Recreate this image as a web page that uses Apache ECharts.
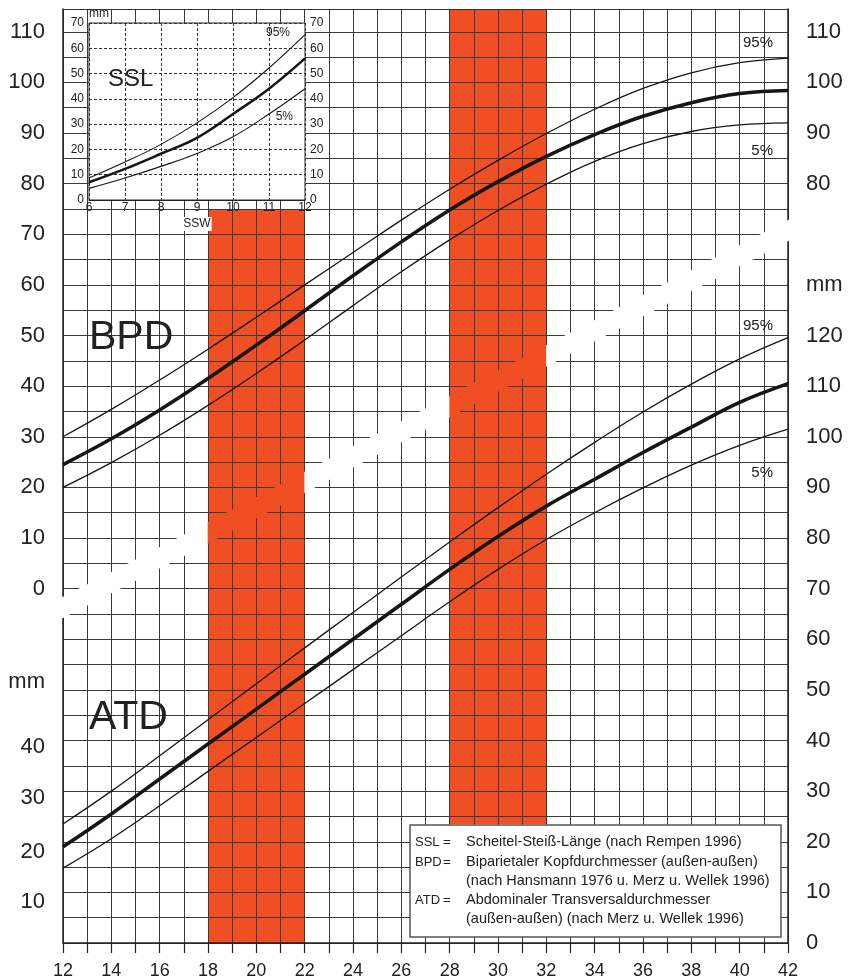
<!DOCTYPE html>
<html>
<head>
<meta charset="utf-8">
<script src="https://cdn.jsdelivr.net/npm/echarts@6/dist/echarts.min.js"></script>
<style>
html, body { margin: 0; padding: 0; background: #fff; }
#chart { width: 848px; height: 980px; }
</style>
</head>
<body>
<div id="chart"></div>
<script>
// gestational weeks (SSW)
var weeks = [12, 14, 16, 18, 20, 22, 24, 26, 28, 30, 32, 34, 36, 38, 40, 42];

// BPD in mm
var bpd95 = [30.0, 35.4, 41.2, 47.3, 53.6, 60.0, 66.4, 72.8, 78.9, 84.6, 89.9, 94.7, 98.8, 101.9, 103.9, 104.8];
var bpd50 = [24.5, 29.6, 35.3, 41.5, 48.1, 54.9, 61.8, 68.5, 74.8, 80.4, 85.4, 89.7, 93.3, 96.0, 97.8, 98.4];
var bpd5  = [20.0, 24.9, 30.3, 36.2, 42.5, 49.1, 55.9, 62.6, 68.9, 74.7, 79.9, 84.4, 87.9, 90.3, 91.6, 92.0];

// ATD in mm
var atd95 = [23.5, 30.0, 37.0, 44.1, 51.2, 58.3, 65.3, 72.3, 79.2, 86.0, 92.6, 98.9, 104.9, 110.4, 115.4, 119.6];
var atd50 = [19.0, 25.5, 32.4, 39.3, 46.2, 53.1, 60.0, 66.9, 73.8, 80.3, 86.3, 91.6, 96.9, 101.9, 106.8, 110.5];
var atd5  = [14.8, 20.6, 27.1, 33.9, 40.6, 47.3, 54.0, 60.7, 67.4, 73.8, 79.7, 85.0, 89.9, 94.4, 98.3, 101.5];

// SSL inset
var sslWeeks = [6, 7, 8, 9, 10, 11, 12];
var ssl95 = [8.7, 15.0, 22.0, 30.5, 40.5, 52.2, 65.4];
var ssl50 = [7.0, 12.3, 18.3, 24.6, 34.0, 44.0, 56.0];
var ssl5  = [4.6, 8.7, 13.3, 18.4, 25.0, 34.0, 44.0];

// shared vertical scale is in ATD mm; BPD 0 sits at ATD 70
var bpdOffset = 70;
var scaleTop = 184.5;

// red week bands [from, to, low, high] on the shared scale
var redZones = [[18, 22, 0, 145], [28, 32, 23.5, 184.5]];

// white divider between the BPD and ATD charts
var bandWeeks = [12, 42];
var bandValues = [66, 141];
var bandHalf = 2.1;

var RED = '#f04e23';
var INK = '#161616';
var LINE = '#3a3a3a';
var FONT = "'Liberation Sans', Arial, Helvetica, sans-serif";

function pairs(xs, ys, off) {
    return xs.map(function (x, i) { return [x, ys[i] + (off || 0)]; });
}

function bandAt(w) {
    return bandValues[0] + (w - bandWeeks[0]) / (bandWeeks[1] - bandWeeks[0]) * (bandValues[1] - bandValues[0]);
}

// split the band where it enters / leaves the red zones
var cuts = [bandWeeks[0]];
redZones.forEach(function (z) { cuts.push(z[0], z[1]); });
cuts.push(bandWeeks[1]);
var bandSegs = [];
for (var i = 0; i < cuts.length - 1; i++) {
    var mid = (cuts[i] + cuts[i + 1]) / 2, isRed = 0;
    redZones.forEach(function (z) { if (mid > z[0] && mid < z[1]) isRed = 1; });
    bandSegs.push([cuts[i], cuts[i + 1], isRed]);
}

function leftLabel(u) {
    if (u >= bpdOffset && u % 10 === 0 && u <= 180) return String(u - bpdOffset);
    if (u === 50) return '{up|mm}';
    if (u === 10 || u === 20) return '{dn|' + u + '}';
    if (u === 30 || u === 40) return '{dn2|' + u + '}';
    return '';
}

function rightLabel(u) {
    if (u % 10 !== 0) return '';
    if (u <= 120) return String(u);
    if (u === 130) return 'mm';
    if (u >= 150 && u <= 180) return String(u - bpdOffset);
    return '';
}

var thin = 1.3, thick = 3.6;

function curve(name, data, w, xi, yi, z) {
    return {
        name: name, type: 'line', data: data, smooth: 0.4, symbol: 'none',
        xAxisIndex: xi, yAxisIndex: yi, z: z, silent: true,
        lineStyle: { color: INK, width: w }
    };
}

function txt(x, y, s, size, align, z) {
    return { type: 'text', x: x, y: y, z: z || 10,
             style: { text: s, fontSize: size, fontFamily: FONT, fill: '#222', align: align || 'left', verticalAlign: 'middle' } };
}

var chart = echarts.init(document.getElementById('chart'));

var option = {
    animation: false,
    backgroundColor: '#fff',
    textStyle: { fontFamily: FONT },
    grid: [
        { left: 63, right: 60, top: 9, bottom: 36, show: false },
        { left: 89, top: 23, width: 216, height: 177, show: true, z: 5,
          backgroundColor: '#fff', borderColor: '#2a2a2a', borderWidth: 1 }
    ],
    xAxis: [
        { type: 'value', gridIndex: 0, min: 12, max: 42, interval: 1, z: 2,
          axisLine: { show: true, onZero: false, lineStyle: { color: '#222', width: 1.5 } },
          axisTick: { show: true, length: 10, lineStyle: { color: '#222', width: 1.2 } },
          axisLabel: { margin: 19, fontSize: 18, color: '#222', fontFamily: FONT,
                       formatter: function (v) { return v % 2 === 0 ? String(v) : ''; } },
          splitLine: { show: true, lineStyle: { color: LINE, width: 1 } } },
        { type: 'value', gridIndex: 0, position: 'top', min: 12, max: 42, z: 2,
          axisLine: { show: true, onZero: false, lineStyle: { color: '#333', width: 1.2 } },
          axisTick: { show: false }, axisLabel: { show: false }, splitLine: { show: false } },
        { type: 'value', gridIndex: 1, min: 6, max: 12, interval: 1, z: 6,
          axisLine: { show: true, onZero: false, lineStyle: { color: '#222', width: 1 } },
          axisTick: { show: false },
          axisLabel: { margin: 2, fontSize: 12, color: '#222', fontFamily: FONT },
          splitLine: { show: true, lineStyle: { color: '#333', width: 1, type: [3, 2] } },
          name: 'SSW', nameLocation: 'middle', nameGap: 17,
          nameTextStyle: { fontSize: 12, color: '#222', fontFamily: FONT, backgroundColor: '#fff', padding: [1, 1] } }
    ],
    yAxis: [
        { type: 'value', gridIndex: 0, position: 'left', min: 0, max: scaleTop, interval: 5, z: 2,
          axisLine: { show: true, onZero: false, lineStyle: { color: '#222', width: 1.5 } },
          axisTick: { show: false },
          axisLabel: { margin: 18, fontSize: 22, color: '#222', fontFamily: FONT, formatter: leftLabel,
                       rich: {
                           up: { fontSize: 22, color: '#222', fontFamily: FONT, padding: [0, 0, 16, 0] },
                           dn: { fontSize: 22, color: '#222', fontFamily: FONT, padding: [20, 0, 0, 0] },
                           dn2: { fontSize: 22, color: '#222', fontFamily: FONT, padding: [13, 0, 0, 0] }
                       } },
          splitLine: { show: true, lineStyle: { color: LINE, width: 1 } } },
        { type: 'value', gridIndex: 0, position: 'right', min: 0, max: scaleTop, interval: 5, z: 2,
          axisLine: { show: true, onZero: false, lineStyle: { color: '#222', width: 1.5 } },
          axisTick: { show: false },
          axisLabel: { margin: 18, fontSize: 22, color: '#222', fontFamily: FONT, formatter: rightLabel },
          splitLine: { show: false } },
        { type: 'value', gridIndex: 1, position: 'left', min: 0, max: 70, interval: 10, z: 6,
          axisLine: { show: false }, axisTick: { show: false },
          axisLabel: { margin: 5, fontSize: 12, color: '#222', fontFamily: FONT },
          splitLine: { show: true, lineStyle: { color: '#333', width: 1, type: [3, 2] } },
          name: 'mm', nameLocation: 'end', nameGap: 3,
          nameTextStyle: { fontSize: 12, color: '#222', fontFamily: FONT, align: 'left' } },
        { type: 'value', gridIndex: 1, position: 'right', min: 0, max: 70, interval: 10, z: 6,
          axisLine: { show: false }, axisTick: { show: false },
          axisLabel: { margin: 5, fontSize: 12, color: '#222', fontFamily: FONT },
          splitLine: { show: false } }
    ],
    series: [
        { type: 'custom', name: 'zones', xAxisIndex: 0, yAxisIndex: 0, z: 1, silent: true,
          data: redZones, encode: { x: [0, 1], y: [2, 3] },
          renderItem: function (params, api) {
              var a = api.coord([api.value(0), api.value(3)]);
              var b = api.coord([api.value(1), api.value(2)]);
              return { type: 'rect', shape: { x: a[0], y: a[1], width: b[0] - a[0], height: b[1] - a[1] },
                       style: { fill: RED } };
          } },
        { type: 'custom', name: 'band', xAxisIndex: 0, yAxisIndex: 0, z: 3, silent: true,
          data: bandSegs, encode: { x: [0, 1] },
          renderItem: function (params, api) {
              var x0 = api.value(0), x1 = api.value(1);
              var t0 = api.coord([x0, bandAt(x0) + bandHalf]);
              var t1 = api.coord([x1, bandAt(x1) + bandHalf]);
              var b1 = api.coord([x1, bandAt(x1) - bandHalf]);
              var b0 = api.coord([x0, bandAt(x0) - bandHalf]);
              var padL = x0 === bandWeeks[0] ? 3 : 0.3;
              var padR = x1 === bandWeeks[1] ? 3 : 0.3;
              t0[0] -= padL; b0[0] -= padL; t1[0] += padR; b1[0] += padR;
              return { type: 'polygon', shape: { points: [t0, t1, b1, b0] },
                       style: { fill: api.value(2) ? RED : '#fff' } };
          } },
        curve('BPD 95%', pairs(weeks, bpd95, bpdOffset), thin, 0, 0, 4),
        curve('BPD 50%', pairs(weeks, bpd50, bpdOffset), thick, 0, 0, 4),
        curve('BPD 5%', pairs(weeks, bpd5, bpdOffset), thin, 0, 0, 4),
        curve('ATD 95%', pairs(weeks, atd95), thin, 0, 0, 4),
        curve('ATD 50%', pairs(weeks, atd50), thick, 0, 0, 4),
        curve('ATD 5%', pairs(weeks, atd5), thin, 0, 0, 4),
        curve('SSL 95%', pairs(sslWeeks, ssl95), 1.1, 2, 2, 7),
        curve('SSL 50%', pairs(sslWeeks, ssl50), 2.6, 2, 2, 7),
        curve('SSL 5%', pairs(sslWeeks, ssl5), 1.1, 2, 2, 7)
    ],
    graphic: [
        txt(89, 338, 'BPD', 41),
        txt(89, 718, 'ATD', 41),
        txt(108, 79, 'SSL', 24),
        txt(773, 43, '95%', 15, 'right'),
        txt(773, 151, '5%', 15, 'right'),
        txt(773, 326, '95%', 15, 'right'),
        txt(773, 473, '5%', 15, 'right'),
        txt(290, 33, '95%', 12, 'right'),
        txt(293, 117, '5%', 12, 'right'),
        { type: 'rect', z: 10, shape: { x: 410, y: 825, width: 371, height: 112 },
          style: { fill: '#fff', stroke: '#555', lineWidth: 1.5 } },
        txt(415, 842, 'SSL', 13, 'left', 11),
        txt(443, 842, '=', 13.5, 'left', 11),
        txt(466, 842, 'Scheitel-Steiß-Länge (nach Rempen 1996)', 14.5, 'left', 11),
        txt(415, 862, 'BPD', 13, 'left', 11),
        txt(443, 862, '=', 13.5, 'left', 11),
        txt(466, 862, 'Biparietaler Kopfdurchmesser (außen-außen)', 14.5, 'left', 11),
        txt(466, 881, '(nach Hansmann 1976 u. Merz u. Wellek 1996)', 14.5, 'left', 11),
        txt(415, 900, 'ATD', 13, 'left', 11),
        txt(443, 900, '=', 13.5, 'left', 11),
        txt(466, 900, 'Abdominaler Transversaldurchmesser', 14.5, 'left', 11),
        txt(466, 919, '(außen-außen) (nach Merz u. Wellek 1996)', 14.5, 'left', 11)
    ]
};

chart.setOption(option);
</script>
</body>
</html>
